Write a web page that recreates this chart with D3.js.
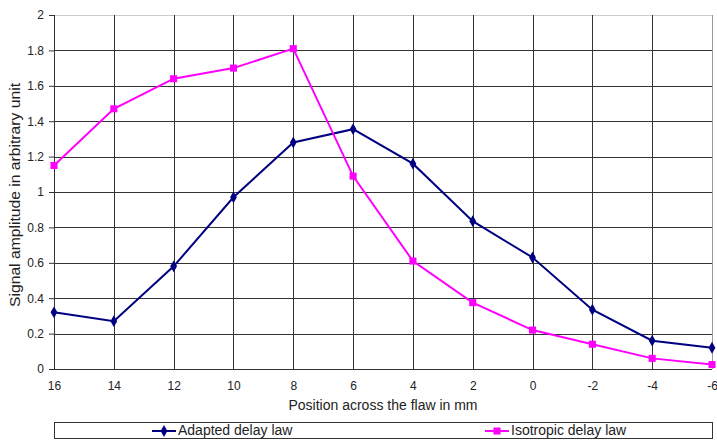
<!DOCTYPE html>
<html>
<head>
<meta charset="utf-8">
<script src="https://d3js.org/d3.v7.min.js"></script>
<style>
  body { margin: 0; background: #fff; }
  svg text { font-family: "Liberation Sans", Arial, sans-serif; fill: #222; }
</style>
</head>
<body>
<div id="chart"></div>
<script>
const positions = [16, 14, 12, 10, 8, 6, 4, 2, 0, -2, -4, -6];
const adapted = [0.32, 0.27, 0.58, 0.97, 1.28, 1.355, 1.16, 0.835, 0.63, 0.335, 0.16, 0.12];
const isotropic = [1.15, 1.47, 1.64, 1.70, 1.81, 1.09, 0.61, 0.375, 0.22, 0.14, 0.06, 0.025];
const yTicks = [0, 0.2, 0.4, 0.6, 0.8, 1, 1.2, 1.4, 1.6, 1.8, 2];
const seriesNames = ['Adapted delay law', 'Isotropic delay law'];

const width = 717, height = 441;
const margin = { left: 54, top: 15, right: 5, bottom: 72 };
const innerW = width - margin.left - margin.right;
const innerH = height - margin.top - margin.bottom;

const svg = d3.select('#chart').append('svg')
    .attr('width', width)
    .attr('height', height);

const g = svg.append('g')
    .attr('transform', `translate(${margin.left},${margin.top})`);

const x = d3.scalePoint().domain(positions).range([0, innerW]);
const y = d3.scaleLinear().domain([0, 2]).range([innerH, 0]);

// grid
g.append('g').selectAll('line.h')
    .data(yTicks)
    .join('line')
    .attr('x1', 0).attr('x2', innerW)
    .attr('y1', d => Math.round(y(d)) + 0.5).attr('y2', d => Math.round(y(d)) + 0.5)
    .attr('stroke', d => d === 2 ? '#ccc' : '#333');

g.append('g').selectAll('line.v')
    .data(positions)
    .join('line')
    .attr('x1', d => Math.round(x(d)) + 0.5).attr('x2', d => Math.round(x(d)) + 0.5)
    .attr('y1', 0).attr('y2', innerH)
    .attr('stroke', d => d === -6 ? '#999' : '#333');

// y axis
const yAxis = g.append('g')
    .call(d3.axisLeft(y).tickValues(yTicks).tickSize(5).tickFormat(d3.format('~g')));
yAxis.select('.domain').attr('stroke', '#333');
yAxis.selectAll('.tick line').attr('stroke', '#333');
yAxis.selectAll('.tick text').attr('x', -10).style('font-size', '12px')
    .attr('font-family', '"Liberation Sans", Arial, sans-serif').attr('fill', '#222');

// x axis
const xAxis = g.append('g')
    .attr('transform', `translate(0,${innerH})`)
    .call(d3.axisBottom(x).tickSize(0));
xAxis.select('.domain').remove();
xAxis.selectAll('.tick text').attr('y', 12).style('font-size', '12px')
    .attr('font-family', '"Liberation Sans", Arial, sans-serif').attr('fill', '#222');
g.append('line')
    .attr('x1', 0).attr('x2', innerW)
    .attr('y1', innerH + 0.5).attr('y2', innerH + 0.5)
    .attr('stroke', '#333');

// labels
svg.append('text')
    .attr('x', 383)
    .attr('y', 410)
    .attr('text-anchor', 'middle')
    .style('font-size', '14px')
    .text('Position across the flaw in mm');

svg.append('text')
    .attr('transform', `translate(20,195) rotate(-90)`)
    .attr('text-anchor', 'middle')
    .style('font-size', '14.5px')
    .attr('textLength', 224)
    .attr('lengthAdjust', 'spacingAndGlyphs')
    .text('Signal amplitude in arbitrary unit');

// lines
const line = d3.line().x((d, i) => x(positions[i])).y(d => y(d));

g.append('path').datum(adapted)
    .attr('fill', 'none').attr('stroke', '#000080').attr('stroke-width', 2)
    .attr('d', line);
g.append('path').datum(isotropic)
    .attr('fill', 'none').attr('stroke', '#ff00ff').attr('stroke-width', 2)
    .attr('d', line);

const diamond = d3.symbol().type(d3.symbolDiamond).size(40);
const square = d3.symbol().type(d3.symbolSquare).size(50);

g.append('g').selectAll('path')
    .data(adapted)
    .join('path')
    .attr('transform', (d, i) => `translate(${x(positions[i])},${y(d)})`)
    .attr('d', diamond)
    .attr('fill', '#000080');

g.append('g').selectAll('path')
    .data(isotropic)
    .join('path')
    .attr('transform', (d, i) => `translate(${x(positions[i])},${y(d)})`)
    .attr('d', square)
    .attr('fill', '#ff00ff');

// legend
const legend = svg.append('g');
legend.append('rect')
    .attr('x', 54.5).attr('y', 422.5)
    .attr('width', 658).attr('height', 16)
    .attr('fill', '#fff').attr('stroke', '#333');

const legendItems = [
    { name: seriesNames[0], color: '#000080', sym: diamond, x: 152 },
    { name: seriesNames[1], color: '#ff00ff', sym: square, x: 485 }
];
legendItems.forEach(it => {
    legend.append('line')
        .attr('x1', it.x).attr('x2', it.x + 24)
        .attr('y1', 431).attr('y2', 431)
        .attr('stroke', it.color).attr('stroke-width', 2);
    legend.append('path')
        .attr('transform', `translate(${it.x + 12},431)`)
        .attr('d', it.sym)
        .attr('fill', it.color);
    legend.append('text')
        .attr('x', it.x + 26).attr('y', 435)
        .style('font-size', '14px')
        .attr('fill', '#000')
        .text(it.name);
});
</script>
</body>
</html>
